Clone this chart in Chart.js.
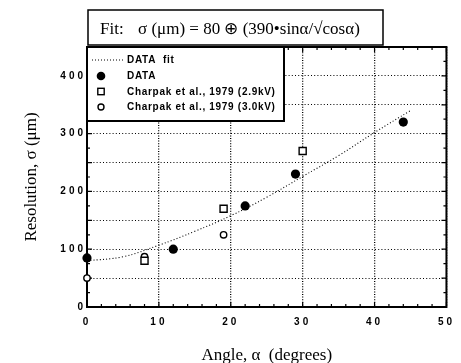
<!DOCTYPE html>
<html lang="en">
<head>
<meta charset="UTF-8">
<title>Resolution vs angle</title>
<script src="https://cdn.jsdelivr.net/npm/chart.js"></script>
<style>
  body { margin: 0; background: #fff; }
  #wrap { width: 461px; height: 363px; }
</style>
</head>
<body>
<div id="wrap"><canvas id="resChart" width="461" height="363"></canvas></div>
<script>
  // DATA (filled circles)
  const dataAngle = [0, 12, 22, 29, 44];
  const dataSigma = [85, 100, 175, 230, 320];
  // Charpak et al., 1979 (2.9kV) - open squares
  const charpak29Angle = [8, 19, 30];
  const charpak29Sigma = [80, 170, 270];
  // Charpak et al., 1979 (3.0kV) - open circles
  const charpak30Angle = [0, 8, 19];
  const charpak30Sigma = [50, 87, 125];
  // fit curve
  const fitAngle = [0, 5, 10, 15, 20, 25, 30, 35, 40, 45];
  const fitSigma = [80, 87, 107, 131, 158, 190, 226, 262, 302, 340];

  const yLabelled = [0, 100, 200, 300, 400];

  const fitTitle = 'Fit:';
  const fitFormula = 'σ (μm) = 80 ⊕ (390•sinα/√cosα)';
  const legendLabels = ['DATA  fit', 'DATA', 'Charpak et al., 1979 (2.9kV)', 'Charpak et al., 1979 (3.0kV)'];

  const pts = (xs, ys) => xs.map((x, i) => ({ x: x, y: ys[i] }));

  const tickFont = { family: '"Liberation Sans", Arial, sans-serif', size: 10, weight: 'bold' };
  const serif = '"Liberation Serif", "Times New Roman", serif';

  // frame + small inward ticks, under the markers
  const framePlugin = {
    id: 'frame',
    beforeDatasetsDraw(chart) {
      const { ctx, chartArea: a, scales } = chart;
      const xs = scales.x, ys = scales.y;
      ctx.save();
      ctx.strokeStyle = '#000';
      ctx.lineWidth = 1.2;
      ctx.beginPath();
      for (let v = 0; v <= 50; v += 2) {
        const px = xs.getPixelForValue(v);
        const len = v % 10 === 0 ? 5 : 3;
        ctx.moveTo(px, a.bottom); ctx.lineTo(px, a.bottom - len);
        ctx.moveTo(px, a.top); ctx.lineTo(px, a.top + len);
      }
      for (let v = 0; v <= 450; v += 25) {
        const py = ys.getPixelForValue(v);
        const len = v % 50 === 0 ? 5 : 3;
        ctx.moveTo(a.left, py); ctx.lineTo(a.left + len, py);
        ctx.moveTo(a.right, py); ctx.lineTo(a.right - len, py);
      }
      ctx.stroke();
      ctx.lineWidth = 2;
      ctx.strokeRect(a.left, a.top, a.right - a.left, a.bottom - a.top);
      ctx.restore();
    },
    // tick labels are drawn after the datasets (ticks.z = 1), spaced out like the original
    afterDatasetsDraw(chart) {
      chart.ctx.letterSpacing = '3px';
    }
  };

  // boxed fit title and boxed legend
  const boxPlugin = {
    id: 'boxes',
    afterDraw(chart) {
      const { ctx, chartArea: a } = chart;
      ctx.letterSpacing = '0px';
      ctx.save();
      ctx.strokeStyle = '#000';
      ctx.fillStyle = '#fff';
      ctx.lineWidth = 1.5;

      // title box
      ctx.fillRect(a.left + 1, 10, 295, 35);
      ctx.strokeRect(a.left + 1, 10, 295, 35);
      ctx.fillStyle = '#000';
      ctx.font = '17px ' + serif;
      ctx.textBaseline = 'alphabetic';
      ctx.fillText(fitTitle, a.left + 13, 34);
      ctx.fillText(fitFormula, a.left + 51, 34, 224);

      // legend box
      const lw = 197, lh = 74;
      ctx.fillStyle = '#fff';
      ctx.fillRect(a.left, a.top, lw, lh);
      ctx.lineWidth = 2;
      ctx.strokeRect(a.left, a.top, lw, lh);

      const rows = [13, 29, 44.5, 60];
      const mx = a.left + 14;
      ctx.fillStyle = '#000';
      ctx.font = 'bold 10px "Liberation Sans", Arial, sans-serif';
      ctx.letterSpacing = '0.7px';
      ctx.textBaseline = 'middle';
      legendLabels.forEach((t, i) => ctx.fillText(t, a.left + 40, a.top + rows[i] + 0.5));
      ctx.letterSpacing = '0px';

      // fit sample
      ctx.lineWidth = 1;
      ctx.setLineDash([1, 2]);
      ctx.beginPath();
      ctx.moveTo(a.left + 5, a.top + rows[0]);
      ctx.lineTo(a.left + 36, a.top + rows[0]);
      ctx.stroke();
      ctx.setLineDash([]);
      // filled circle
      ctx.beginPath();
      ctx.arc(mx, a.top + rows[1], 4.3, 0, Math.PI * 2);
      ctx.fill();
      // open square
      ctx.lineWidth = 1.4;
      ctx.strokeRect(mx - 3.2, a.top + rows[2] - 3.2, 6.4, 6.4);
      // open circle
      ctx.beginPath();
      ctx.arc(mx, a.top + rows[3], 3, 0, Math.PI * 2);
      ctx.stroke();
      ctx.restore();
    }
  };

  new Chart(document.getElementById('resChart'), {
    type: 'scatter',
    data: {
      datasets: [{
        label: 'DATA fit',
        data: pts(fitAngle, fitSigma),
        showLine: true,
        borderColor: '#000',
        borderWidth: 1.1,
        borderDash: [1, 2.2],
        pointRadius: 0,
        tension: 0.4,
        clip: false
      }, {
        label: 'DATA',
        data: pts(dataAngle, dataSigma),
        pointStyle: 'circle',
        pointRadius: 4.6,
        backgroundColor: '#000',
        borderColor: '#000',
        borderWidth: 0,
        clip: false
      }, {
        label: 'Charpak et al., 1979 (2.9kV)',
        data: pts(charpak29Angle, charpak29Sigma),
        pointStyle: 'rect',
        pointRadius: 5,
        backgroundColor: '#fff',
        borderColor: '#000',
        borderWidth: 1.4,
        clip: false
      }, {
        label: 'Charpak et al., 1979 (3.0kV)',
        data: pts(charpak30Angle, charpak30Sigma),
        pointStyle: 'circle',
        pointRadius: 3.2,
        backgroundColor: '#fff',
        borderColor: '#000',
        borderWidth: 1.4,
        clip: false
      }]
    },
    options: {
      responsive: false,
      animation: false,
      layout: { padding: { left: 0, top: 47, right: 13, bottom: 0 } },
      plugins: {
        legend: { display: false },
        tooltip: { enabled: false }
      },
      scales: {
        x: {
          type: 'linear',
          min: 0,
          max: 50,
          afterFit: s => { s.height = 56; },
          border: { display: false, dash: [1, 1.6] },
          grid: {
            color: '#000',
            lineWidth: 1.3,
            drawTicks: false
          },
          ticks: {
            stepSize: 10,
            padding: 9,
            color: '#000',
            font: tickFont,
            z: 1
          },
          title: {
            display: true,
            text: 'Angle, α  (degrees)',
            color: '#000',
            font: { family: serif, size: 17 },
            padding: { top: 0, bottom: -3 }
          }
        },
        y: {
          type: 'linear',
          min: 0,
          max: 450,
          afterFit: s => { s.width = 87; },
          border: { display: false, dash: [1, 2.2] },
          grid: {
            color: '#000',
            lineWidth: 1.1,
            drawTicks: false
          },
          ticks: {
            stepSize: 50,
            padding: 1,
            color: '#000',
            font: tickFont,
            z: 1,
            callback: v => yLabelled.includes(v) ? String(v) : ''
          },
          title: {
            display: true,
            text: 'Resolution, σ (μm)',
            color: '#000',
            font: { family: serif, size: 17 },
            padding: { top: 21, bottom: 0 }
          }
        }
      }
    },
    plugins: [framePlugin, boxPlugin]
  });
</script>
</body>
</html>
